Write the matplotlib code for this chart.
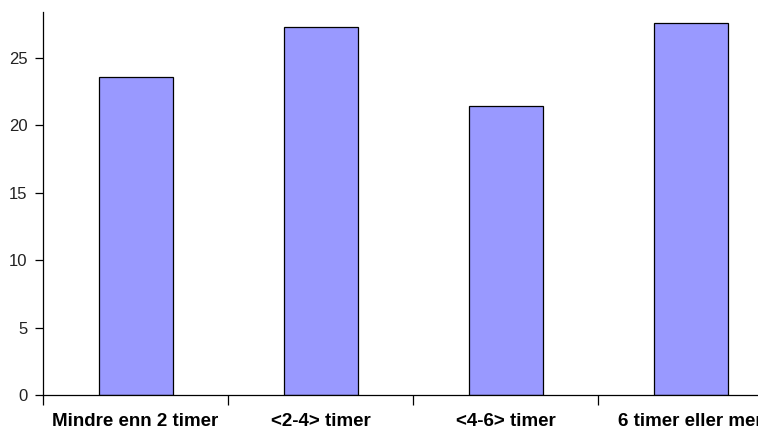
import matplotlib.pyplot as plt

# data
categories = ["Mindre enn 2 timer", "<2-4> timer", "<4-6> timer", "6 timer eller mer"]
values = [23.6, 27.3, 21.4, 27.6]
yticks = [0, 5, 10, 15, 20, 25]

plt.rcParams['font.family'] = ['Liberation Sans', 'DejaVu Sans']

fig = plt.figure(figsize=(7.58, 4.29), dpi=100)
# axes runs past the right edge, as in the original (last label cut off)
ax = fig.add_axes([43 / 758, 34 / 429, 740 / 758, 383 / 429])

x = list(range(len(categories)))
ax.bar(x, values, width=0.4, color="#9999FF", edgecolor="black", linewidth=0.9)

ax.set_xlim(-0.5, len(categories) - 0.5)
ax.set_ylim(0, 28.4)
ax.set_yticks(yticks)
ax.tick_params(axis='y', length=6, width=0.9, labelsize=12, pad=5, labelcolor="#222222")

# ticks between categories, labels under bars
ax.set_xticks([i - 0.5 for i in x])
ax.set_xticklabels([])
ax.set_xticks(x, minor=True)
ax.set_xticklabels(categories, minor=True, fontweight='bold', fontsize=13.5)
ax.tick_params(axis='x', which='major', length=7, width=0.9)
ax.tick_params(axis='x', which='minor', length=0, pad=13)

for s in ['top', 'right']:
    ax.spines[s].set_visible(False)
for s in ['left', 'bottom']:
    ax.spines[s].set_linewidth(0.9)

fig.savefig("out.png", dpi=100)
